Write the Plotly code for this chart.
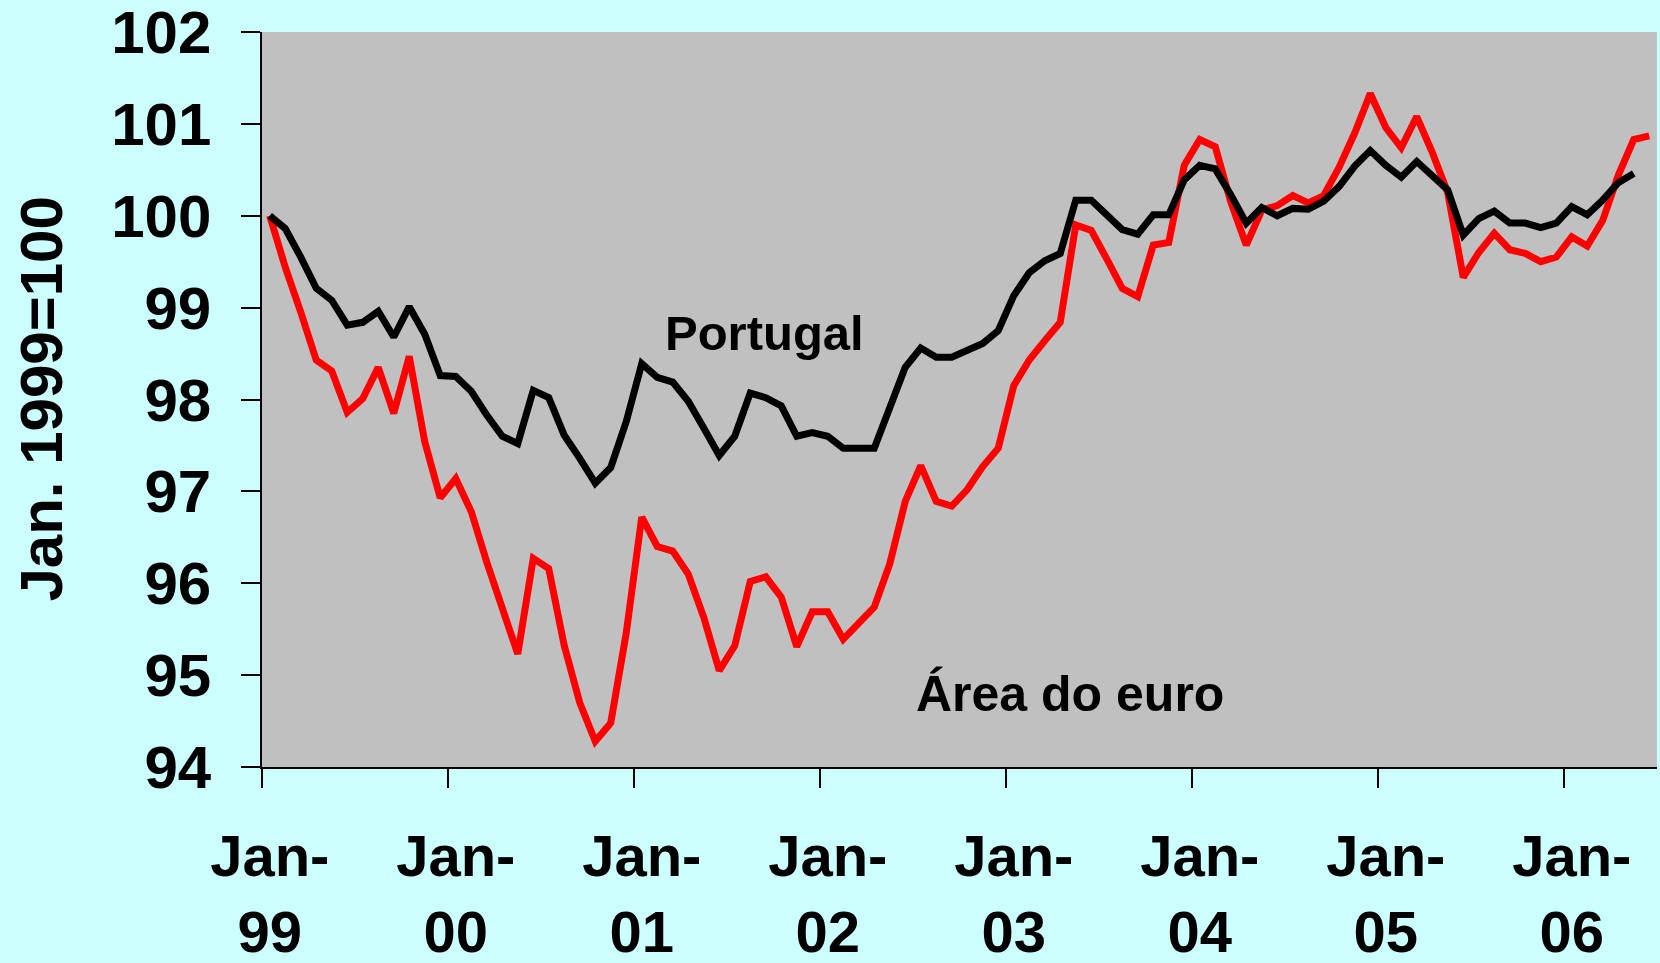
import plotly.graph_objects as go

# Monthly index, Jan 1999 = 100 (Jan-99 .. Jun-06)
years = ["99", "00", "01", "02", "03", "04", "05", "06"]
tick_labels = ["Jan-<br>" + y for y in years]

portugal = [
    100.00, 99.86, 99.55, 99.21, 99.08, 98.81, 98.84, 98.96, 98.68, 99.01, 98.71, 98.26,
    98.25, 98.09, 97.83, 97.60, 97.52, 98.10, 98.02, 97.61, 97.36, 97.09, 97.26, 97.76,
    98.39, 98.24, 98.19, 97.98, 97.69, 97.39, 97.60, 98.07, 98.02, 97.93, 97.60, 97.64,
    97.60, 97.47, 97.47, 97.47, 97.91, 98.35, 98.56, 98.46, 98.46, 98.54, 98.61, 98.75,
    99.13, 99.38, 99.51, 99.59, 100.17, 100.17, 100.01, 99.85, 99.80, 100.01, 100.01, 100.39,
    100.55, 100.51, 100.23, 99.92, 100.09, 100.00, 100.08, 100.07, 100.16, 100.32, 100.54, 100.71,
    100.55, 100.42, 100.59, 100.44, 100.28, 99.79, 99.97, 100.05, 99.92, 99.92, 99.87, 99.92,
    100.10, 100.01, 100.17, 100.36, 100.46,
]

area_euro = [
    100.00, 99.44, 98.95, 98.43, 98.31, 97.86, 98.01, 98.35, 97.85, 98.47, 97.54, 96.93,
    97.14, 96.78, 96.23, 95.74, 95.23, 96.27, 96.16, 95.32, 94.70, 94.28, 94.48, 95.46,
    96.72, 96.40, 96.35, 96.10, 95.63, 95.05, 95.32, 96.02, 96.07, 95.85, 95.31, 95.69,
    95.69, 95.39, 95.56, 95.74, 96.21, 96.89, 97.28, 96.89, 96.84, 97.02, 97.27, 97.47,
    98.15, 98.43, 98.64, 98.84, 99.90, 99.84, 99.53, 99.21, 99.12, 99.68, 99.71, 100.55,
    100.83, 100.75, 100.15, 99.68, 100.06, 100.11, 100.22, 100.14, 100.22, 100.53, 100.90, 101.33,
    100.96, 100.74, 101.08, 100.69, 100.25, 99.33, 99.60, 99.81, 99.63, 99.59, 99.50, 99.55,
    99.77, 99.67, 99.95, 100.44, 100.83, 100.87,
]

FONT = "Liberation Sans, Arial, sans-serif"

fig = go.Figure()
fig.add_trace(go.Scatter(
    x=list(range(len(area_euro))), y=area_euro, mode="lines",
    line=dict(color="#FF0000", width=7), name="Área do euro", hoverinfo="skip"))
fig.add_trace(go.Scatter(
    x=list(range(len(portugal))), y=portugal, mode="lines",
    line=dict(color="#000000", width=7), name="Portugal", hoverinfo="skip"))

fig.update_layout(
    width=1660, height=963,
    margin=dict(l=262, r=3, t=32, b=196, autoexpand=False),
    paper_bgcolor="#CCFFFF",
    plot_bgcolor="#C0C0C0",
    showlegend=False,
    xaxis=dict(
        range=[-0.5, 89.5],
        tickmode="array",
        tickvals=[12 * k for k in range(len(years))],
        ticktext=tick_labels,
        ticks="",
        showgrid=False, zeroline=False,
        showline=True, linecolor="#000000", linewidth=1.5,
        tickfont=dict(family=FONT, size=58, color="#000000", weight="bold"),
        ticklabelstandoff=38,
        ticklabeloverflow="allow",
        automargin=False,
        minor=dict(tick0=-0.5, dtick=12, ticks="outside", ticklen=19,
                   tickwidth=1.5, tickcolor="#000000", showgrid=False),
    ),
    yaxis=dict(
        range=[94, 102],
        dtick=1,
        ticks="outside", ticklen=19, tickwidth=1.5, tickcolor="#000000",
        showgrid=False, zeroline=False,
        showline=True, linecolor="#000000", linewidth=1.5,
        tickfont=dict(family=FONT, size=60, color="#000000", weight="bold"),
        ticklabelstandoff=18,
        ticklabeloverflow="allow",
        automargin=False,
    ),
    annotations=[
        dict(text="Portugal", x=31.95, y=98.72, xref="x", yref="y",
             showarrow=False, xanchor="center", yanchor="middle",
             font=dict(family=FONT, size=49, color="#000000", weight="bold")),
        dict(text="Área do euro", x=51.6, y=94.79, xref="x", yref="y",
             showarrow=False, xanchor="center", yanchor="middle",
             font=dict(family=FONT, size=50, color="#000000", weight="bold")),
        dict(text="Jan. 1999=100", x=-0.1584, y=0.5, xref="paper", yref="paper",
             showarrow=False, xanchor="center", yanchor="middle", textangle=-90,
             font=dict(family=FONT, size=60, color="#000000", weight="bold")),
    ],
)

fig.write_html(
    "out.html",
    config={"displayModeBar": False},
    post_script="document.body.style.margin='0';document.body.style.padding='0';",
)
